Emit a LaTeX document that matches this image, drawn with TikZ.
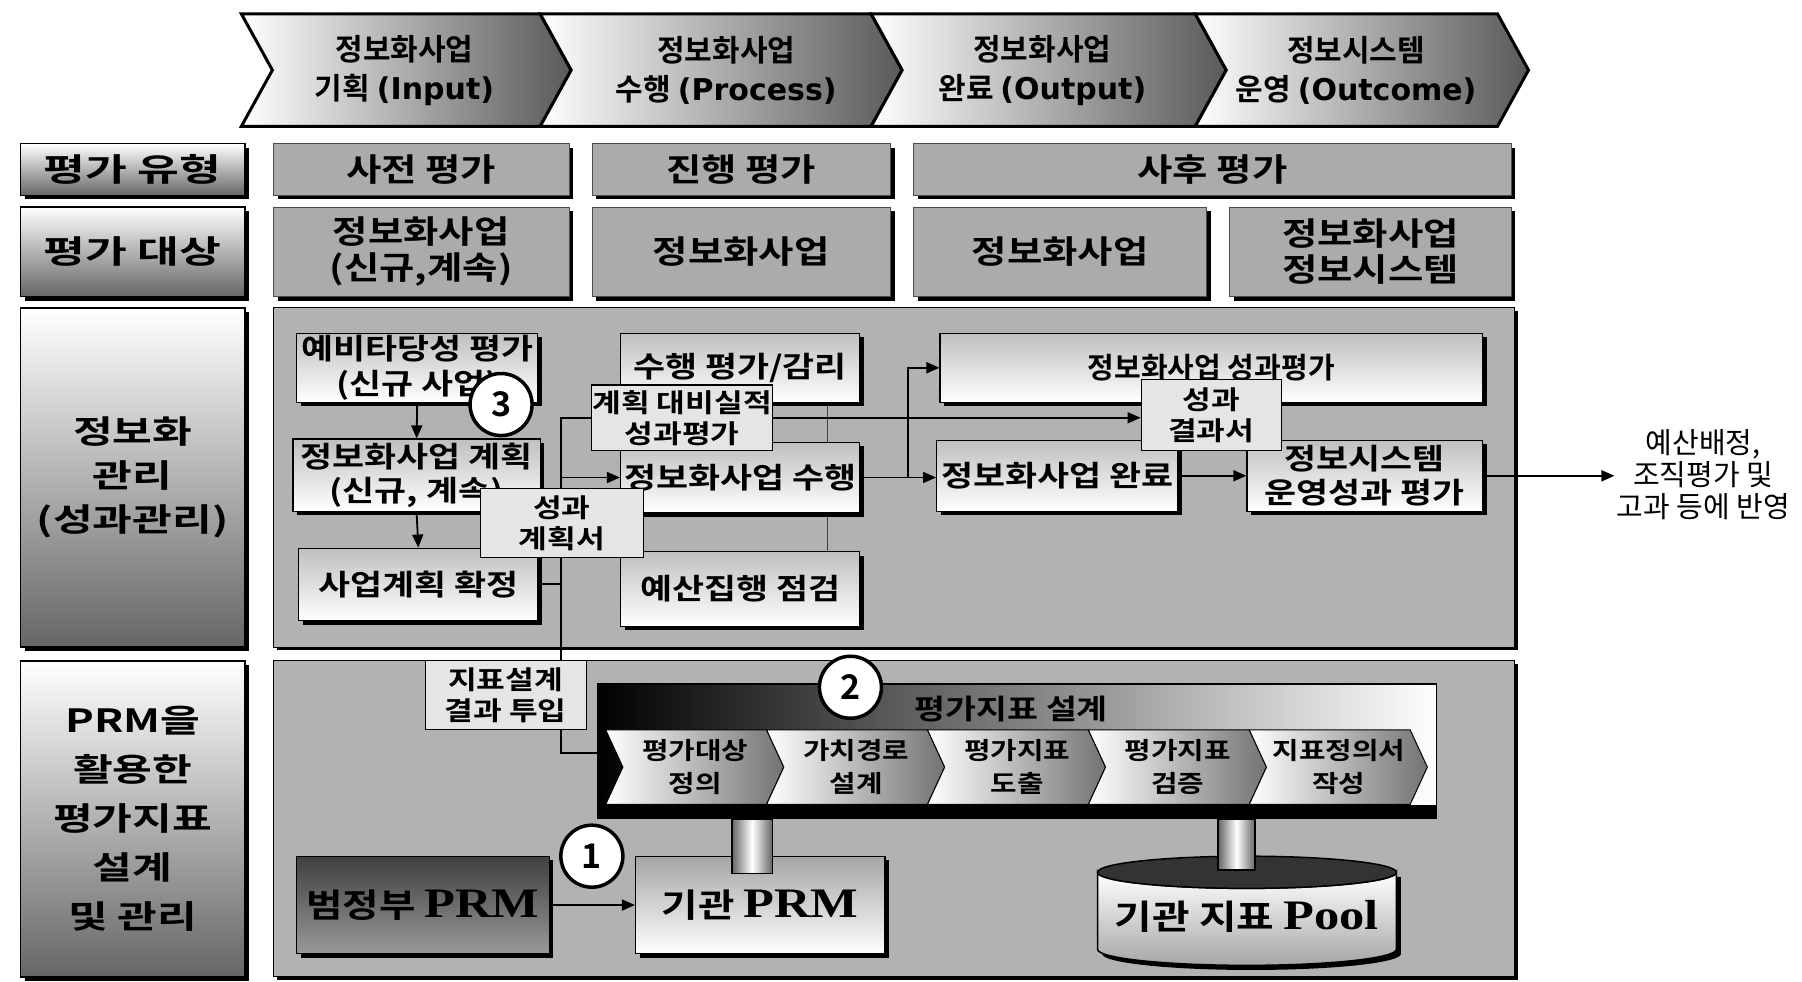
\documentclass[tikz,border=0pt]{standalone}
\usepackage{fontspec}
\usepackage{graphicx}
\setmainfont{Noto Sans CJK KR}[BoldFont={Noto Sans CJK KR Bold}]
\newfontfamily\wk{Noto Sans CJK KR Bold}[FakeStretch=1.2]
\newfontfamily\lserif{Liberation Serif Bold}[FakeStretch=1.2]
\newfontfamily\dvsb{DejaVu Sans Bold}
\usetikzlibrary{shadows,arrows.meta,calc}
\pgfdeclarelayer{back}
\pgfdeclarelayer{conn}
\pgfsetlayers{back,conn,main}
\newcommand\fs[2]{\fontsize{#1}{#2}\selectfont}
\newcommand\stretchtxt[1]{\scalebox{1.35}[1]{#1}}
\newcommand\widelbl[1]{\scalebox{1.42}[1]{#1}}
\begin{document}
\begin{tikzpicture}[x=1.149pt,y=-1.149pt,
  rect/.style n args={4}{at={({(#1+#3)/2},{(#2+#4)/2})},minimum width={(#3-#1)*1.149pt},minimum height={(#4-#2)*1.149pt}},
  shd/.style={drop shadow={shadow xshift=4pt,shadow yshift=-4pt,fill=black,opacity=1}},
  chev/.style={draw=black,line width=3pt,left color=white,right color=black!65},
  ctxt/.style={align=center,inner sep=0pt,font=\bfseries\fs{30}{39}},
  lbl/.style={draw=black,line width=1.5pt,top color=white,bottom color=black!60,inner sep=0pt,shd,align=center,font=\bfseries\fs{32}{44}},
  rowbox/.style={draw=black!70,line width=0.5pt,fill=black!33,inner sep=0pt,shd,align=center,font=\wk\fs{32}{36}},
  panel/.style={draw=black,line width=1pt,fill=black!30,inner sep=0pt,drop shadow={shadow xshift=3pt,shadow yshift=-3pt,fill=black,opacity=1}},
  wbox/.style={draw=black,line width=1.2pt,top color=black!25,bottom color=white,inner sep=0pt,shd,align=center,font=\wk\fs{29}{34}},
  doc/.style={draw=black,line width=1.2pt,fill=black!10,inner sep=0pt,align=center,font=\wk\fs{26}{31}},
  num/.style={circle,draw=black,line width=3.5pt,fill=white,minimum size=62pt,inner sep=0pt,font=\bfseries\fs{34}{34}},
  subchev/.style={draw=black,line width=1pt,left color=white,right color=black!55},
  stxt/.style={align=center,inner sep=0pt,font=\wk\fs{24}{33}},
  arr/.style={line width=1.8pt,-{Triangle[length=13pt,width=11pt]}},
  ln/.style={line width=1.8pt},
  thinln/.style={line width=0.9pt,black!75},
  pipe/.style={draw=black,line width=1.5pt,left color=black!60,right color=black!60,middle color=white},
  prmbox/.style={draw=black,line width=1.2pt,inner sep=0pt,shd,align=center,font=\wk\fs{33}{36}}
]
\useasboundingbox (0,0) rectangle (1568,854);

% ---------- background and panels ----------
\begin{pgfonlayer}{back}
\fill[white] (0,0) rectangle (1568,854);
\node[panel,rect={238}{268}{1318}{563}] (p3) {};
\node[panel,rect={238}{575}{1318}{850}] (p4) {};
\end{pgfonlayer}

% ---------- top chevrons ----------
\path[chev] (210,12) -- (470,12) -- (497,61) -- (470,110) -- (210,110) -- (237,61) -- cycle;
\path[chev] (470,12) -- (758,12) -- (785,61) -- (758,110) -- (470,110) -- (497,61) -- cycle;
\path[chev] (758,12) -- (1040,12) -- (1067,61) -- (1040,110) -- (758,110) -- (785,61) -- cycle;
\path[chev] (1040,12) -- (1303,12) -- (1330,61) -- (1303,110) -- (1040,110) -- (1067,61) -- cycle;
\node[ctxt] (ct1) at (352,61) {정보화사업\\기획 {\dvsb (Input)}};
\node[ctxt] (ct2) at (632,61) {정보화사업\\수행 {\dvsb (Process)}};
\node[ctxt] (ct3) at (907,61) {정보화사업\\완료 {\dvsb (Output)}};
\node[ctxt] (ct4) at (1180,61) {정보시스템\\운영 {\dvsb (Outcome)}};

% ---------- left labels ----------
\node[lbl,rect={18}{125}{213}{170}] (lab1) {\widelbl{평가 유형}};
\node[lbl,rect={18}{180}{213}{258}] (lab2) {\widelbl{평가 대상}};
\node[lbl,rect={18}{268}{213}{563}] (lab3) {\stretchtxt{정보화}\\\stretchtxt{관리}\\\stretchtxt{(성과관리)}};
\node[lbl,rect={18}{575}{213}{850},font=\bfseries\fs{32}{49}] (lab4) {\stretchtxt{PRM을}\\\stretchtxt{활용한}\\\stretchtxt{평가지표}\\\stretchtxt{설계}\\\stretchtxt{및 관리}};

% ---------- rows ----------
\node[rowbox,rect={238}{125}{495}{170}] (r1a) {사전 평가};
\node[rowbox,rect={515}{125}{775}{170}] (r1b) {진행 평가};
\node[rowbox,rect={795}{125}{1315}{170}] (r1c) {사후 평가};
\node[rowbox,rect={238}{180}{495}{258}] (r2a) {정보화사업\\(신규,계속)};
\node[rowbox,rect={515}{180}{775}{258}] (r2b) {정보화사업};
\node[rowbox,rect={795}{180}{1050}{258}] (r2c) {정보화사업};
\node[rowbox,rect={1070}{180}{1315}{258}] (r2d) {정보화사업\\정보시스템};

% ---------- section 3 boxes ----------
\node[wbox,rect={258}{290}{468}{350}] (a1) {예비타당성 평가\\(신규 사업)};
\node[wbox,rect={255}{382}{470}{445}] (a2) {정보화사업 계획\\(신규, 계속)};
\node[wbox,rect={260}{477}{468}{540}] (a3) {사업계획 확정};
\node[wbox,rect={540}{290}{748}{350}] (b1) {수행 평가/감리};
\node[wbox,rect={540}{385}{748}{446}] (b2) {정보화사업 수행};
\node[wbox,rect={540}{480}{748}{545}] (b3) {예산집행 점검};
\node[wbox,rect={818}{290}{1290}{350},font=\bfseries\fs{29}{34}] (c1) {정보화사업 성과평가};
\node[wbox,rect={815}{383}{1025}{445}] (c2) {정보화사업 완료};
\node[wbox,rect={1085}{383}{1290}{445}] (d1) {정보시스템\\운영성과 평가};
\node[doc,rect={418}{425}{560}{485}] (doc1) {성과\\계획서};
\node[doc,rect={515}{335}{672}{392}] (doc2) {계획 대비실적\\성과평가};
\node[doc,rect={993}{330}{1115}{392}] (doc3) {성과\\결과서};
\node[num] (n3) at (436,352) {3};

\node[align=center,inner sep=2pt,font=\fs{29}{32}] (res) at (1482,413) {예산배정,\\조직평가 및\\고과 등에 반영};

% ---------- section 4 ----------
\node[doc,rect={370}{575}{510}{635}] (ind) {지표설계\\결과 투입};
\node[draw=black,line width=1.5pt,left color=black,right color=white,inner sep=0pt,rect={520}{595}{1250}{712}] (pbox) {};
\fill[black] (pbox.south west) rectangle ($(pbox.south east)+(0,-12)$);
\node[inner sep=0pt,font=\wk\fs{28}{30}] (ptitle) at (880,617) {평가지표 설계};
\path[subchev] (527,635) -- (667,635) -- (682,667.5) -- (667,700) -- (527,700) -- (542,667.5) -- cycle;
\path[subchev] (667,635) -- (807,635) -- (822,667.5) -- (807,700) -- (667,700) -- (682,667.5) -- cycle;
\path[subchev] (807,635) -- (947,635) -- (962,667.5) -- (947,700) -- (807,700) -- (822,667.5) -- cycle;
\path[subchev] (947,635) -- (1087,635) -- (1102,667.5) -- (1087,700) -- (947,700) -- (962,667.5) -- cycle;
\path[subchev] (1087,635) -- (1227,635) -- (1242,667.5) -- (1227,700) -- (1087,700) -- (1102,667.5) -- cycle;
\node[stxt] (s1) at (605,667) {평가대상\\정의};
\node[stxt] (s2) at (745,667) {가치경로\\설계};
\node[stxt] (s3) at (885,667) {평가지표\\도출};
\node[stxt] (s4) at (1025,667) {평가지표\\검증};
\node[stxt] (s5) at (1165,667) {지표정의서\\작성};
\node[num] (n2) at (740,598) {2};

\node[prmbox,top color=black!75,bottom color=black!40,rect={258}{745}{478}{830}] (prm1) {범정부 {\lserif\fs{42}{42}PRM}};
\node[prmbox,top color=black!35,bottom color=white,rect={553}{745}{770}{830}] (prm2) {기관 {\lserif\fs{42}{42}PRM}};
% pool cylinder
\fill[black] (959,763) -- (959,830) arc[start angle=180,end angle=0,x radius=130,y radius=14] -- (1219,763) -- cycle;
\path[draw=black,line width=1.5pt,top color=white,bottom color=black!35]
  (955,759) -- (955,826) arc[start angle=180,end angle=0,x radius=130,y radius=14]
  -- (1215,759) arc[start angle=0,end angle=180,x radius=130,y radius=14] -- cycle;
\draw[line width=1.5pt,fill=black!80] (1085,759) ellipse[x radius=130,y radius=14];
\node[inner sep=0pt,font=\wk\fs{34}{36}] (pool) at (1085,797) {기관 지표 {\lserif\fs{42}{42}Pool}};
% pipes
\path[pipe] (pbox.south -| 637,0) rectangle (672,760);
\path[pipe] (pbox.south -| 1060,0) rectangle (1092,757);
\node[num] (n1) at (515,745) {1};

% ---------- connectors ----------
\coordinate (vtop) at (488,363.5);
\coordinate (vbot) at (488,655);
\coordinate (bx) at (790,0);
\coordinate (vx) at (720,0);
\begin{pgfonlayer}{conn}
\draw[arr] (a1.south) -- (a2.north);
\draw[arr] (a2.south) -- (a3.north);
\draw[ln] (doc2.west |- vtop) -- (vtop) -- (vbot) -- (pbox.west |- vbot);
\draw[ln] (a3.east) -- (a3.east -| vtop);
\draw[arr] (vtop |- b2.west) -- (b2.west);
\draw[thinln] (b1.south -| vx) -- (b2.north -| vx);
\draw[thinln] (b2.south -| vx) -- (b3.north -| vx);
\draw[arr] (b2.east) -- (c2.west |- b2.east);
\draw[arr] (bx |- b2.east) -- (bx |- c1.west) -- (c1.west);
\draw[arr] (doc2.east) -- (doc3.west |- doc2.east);
\draw[arr] (c2.east) -- (d1.west |- c2.east);
\draw[arr] (d1.east) -- (res.west |- d1.east);
\draw[arr] (prm1.east) -- (prm2.west);
\end{pgfonlayer}
\end{tikzpicture}
\end{document}
